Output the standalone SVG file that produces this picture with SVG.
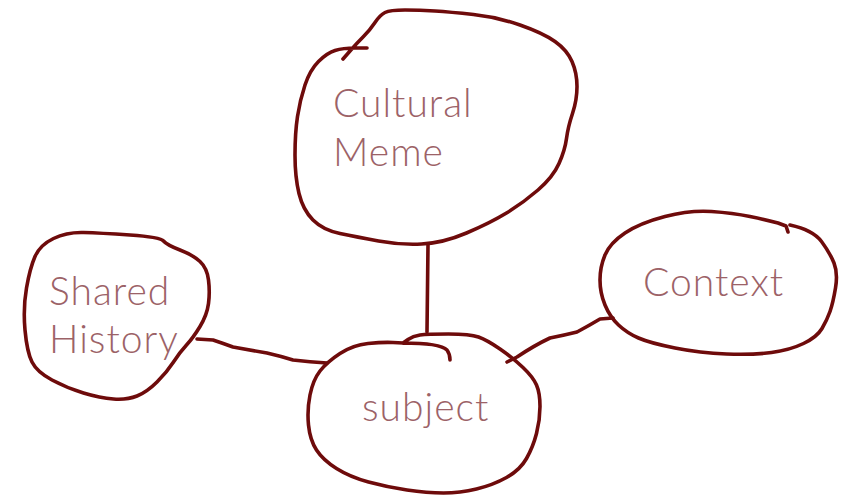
<svg xmlns="http://www.w3.org/2000/svg" width="841" height="495" viewBox="0 0 841 495">
<style>
.b{fill:none;stroke:#6e0b0b;stroke-width:3.6;stroke-linejoin:round;stroke-linecap:round}
.t{fill:#9c6267;font-family:Lato,"Open Sans",sans-serif;font-weight:300;font-size:39px;letter-spacing:1px}
</style>
<rect width="841" height="495" fill="#fff"/>
<g id="connectors">
<path class="b" d="M428,245 L427,332"/>
<path class="b" d="M197,339 L213,340 Q222,343 233,347 Q250,350 267,353 Q280,356 293,360 Q310,362 327,363"/>
<path class="b" d="M507,362 L517,357 Q535,345 550,338 Q565,335 577,332 Q590,325 600,319 L613,318"/>
</g>
<g id="cultural-meme">
<path class="b" d="M343,59 L350,51 Q357,43 363.5,36.5 Q370,30 375,22.5 Q380,15 385,12.5 Q390,10 405,10 Q420,10 435,11 Q450,12 473.5,14.5 Q497,17 520,25 Q543,33 555,41.5 Q567,50 572,61.5 Q577,73 577,86.5 Q577,100 572.5,113.5 Q568,127 566.5,138.5 Q565,150 559,163.5 Q553,177 538,190 Q523,203 506.5,213 Q490,223 466.5,233 Q443,243 421.5,244 Q400,245 378.5,241 Q357,237 340,233.5 Q323,230 313,220 Q303,210 299,193.5 Q295,177 295,155 Q295,133 297.5,116.5 Q300,100 305,85 Q310,70 318.5,61.5 Q327,53 335,50.5 Q343,48 355,48 L367,48"/>
<text class="t" x="333" y="117">Cultural</text>
<text class="t" x="333" y="166">Meme</text>
</g>
<g id="shared-history">
<path class="b" d="M83.5,232.5 Q100,233 130,235 Q160,237 163.5,241 Q167,245 180,250 Q193,255 200,261.5 Q207,268 208.5,280 Q210,292 208.5,303.5 Q207,315 200,326.5 Q193,338 186.5,345 Q180,352 173.5,362 Q167,372 157,382 Q147,392 137,396 Q127,400 113.5,399 Q100,398 83.5,393 Q67,388 52,380 Q37,372 32,362 Q27,352 25,330 Q23,308 26.5,288 Q30,268 35,256.5 Q40,245 53.5,238.5 Q67,232 83.5,232.5 Z"/>
<text class="t" x="49" y="305">Shared</text>
<text class="t" x="49" y="353">History</text>
</g>
<g id="subject">
<path class="b" d="M403,343 L408,339.5 Q413,336 420,335 Q427,334 448.5,334 Q470,334 478.5,337 Q487,340 500,349 Q513,358 523,367.5 Q533,377 536.5,385 Q540,393 540,406.5 Q540,420 536.5,433.5 Q533,447 526.5,458.5 Q520,470 506.5,477.5 Q493,485 476.5,489 Q460,493 443.5,493 Q427,493 407,490 Q387,487 368.5,482 Q350,477 336.5,468.5 Q323,460 316.5,450 Q310,440 308.5,425 Q307,410 310,395 Q313,380 320,371 Q327,362 340,353.5 Q353,345 368,343.5 Q383,342 393,342.5 L403,343 Q440,343 447,350 Q450,354 450,360"/>
<text class="t" x="362" y="421">subject</text>
</g>
<g id="context">
<path class="b" d="M790,225 Q813,230 821.5,241.5 Q830,253 834,263 Q838,273 835.5,288 Q833,303 830,311.5 Q827,320 822,328.5 Q817,337 803.5,343.5 Q790,350 771.5,352.5 Q753,355 726.5,354 Q700,353 675,348 Q650,343 638.5,338 Q627,333 618.5,325 Q610,317 605,305 Q600,293 600,280 Q600,267 605,255 Q610,243 625,233 Q640,223 665,216.5 Q690,210 711.5,211.5 Q733,213 750,216.5 Q767,220 778,223 L786,226 L788,232"/>
<text class="t" x="643" y="296">Context</text>
</g>
</svg>
